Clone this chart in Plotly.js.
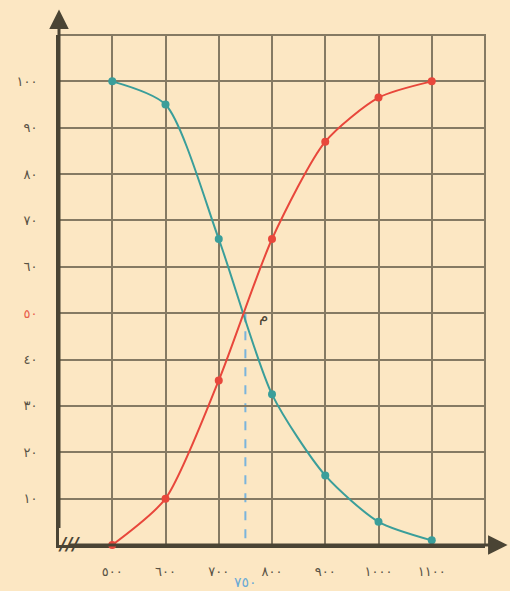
<!DOCTYPE html>
<html>
<head>
<meta charset="utf-8">
<script src="https://cdn.plot.ly/plotly-3.0.1.min.js"></script>
<style>html,body{margin:0;padding:0;background:#fce7c3;}</style>
</head>
<body>
<div id="chart" style="width:510px;height:591px;"></div>
<script>
// Data
var xValues = [500, 600, 700, 800, 900, 1000, 1100];
var tealValues = [100, 95, 66, 32.5, 15, 5, 1];
var redValues = [0, 10, 35.5, 66, 87, 96.5, 100];
var xTickVals = [500, 600, 700, 800, 900, 1000, 1100];
var xTickText = ['٥٠٠', '٦٠٠', '٧٠٠', '٨٠٠', '٩٠٠', '١٠٠٠', '١١٠٠'];
var yTickVals = [10, 20, 30, 40, 50, 60, 70, 80, 90, 100];
var yTickText = ['١٠', '٢٠', '٣٠', '٤٠', '<span style="color:#e8604c">٥٠</span>', '٦٠', '٧٠', '٨٠', '٩٠', '١٠٠'];
var crossX = 750, crossY = 50;
var crossLabel = '٧٥٠';
var pointLabel = 'م';
var originLabel = '٠';

var gridColor = '#857a63';
var axisColor = '#4a4434';
var tickFont = {family: 'DejaVu Sans', size: 13, color: '#5a5345'};

var traces = [
  {x: xValues, y: tealValues, type: 'scatter', mode: 'lines+markers',
   line: {color: '#3a9e9a', width: 2, shape: 'spline', smoothing: 0.7},
   marker: {color: '#3a9e9a', size: 8}, cliponaxis: false},
  {x: xValues, y: redValues, type: 'scatter', mode: 'lines+markers',
   line: {color: '#e8473b', width: 2, shape: 'spline', smoothing: 0.7},
   marker: {color: '#e8473b', size: 8}, cliponaxis: false}
];

var layout = {
  width: 510, height: 591,
  margin: {l: 59, r: 25, t: 35, b: 46},
  paper_bgcolor: '#fce7c3',
  plot_bgcolor: '#fce7c3',
  showlegend: false,
  xaxis: {range: [400, 1200], tickvals: [400,500,600,700,800,900,1000,1100],
          ticktext: [''].concat(xTickText),
          showgrid: true, gridcolor: gridColor, gridwidth: 2,
          showline: true, linecolor: axisColor, linewidth: 3,
          zeroline: false, ticks: '', ticklabelstandoff: 12, tickfont: tickFont,
          layer: 'below traces', fixedrange: true},
  yaxis: {range: [0, 110], tickvals: yTickVals, ticktext: yTickText,
          showgrid: true, gridcolor: gridColor, gridwidth: 2,
          showline: true, linecolor: axisColor, linewidth: 3,
          zeroline: false, ticks: '', ticklabelstandoff: 16, tickfont: tickFont,
          layer: 'below traces', fixedrange: true},
  shapes: [
    {type: 'path', xref: 'paper', yref: 'paper', path: 'M0,1 L1,1 L1,0',
     line: {color: gridColor, width: 2}, layer: 'below'},
    {type: 'line', xref: 'x', yref: 'y', x0: crossX, x1: crossX, y0: crossY, y1: -5,
     line: {color: '#7ab4dc', width: 2, dash: 'dash'}, layer: 'below'}
  ],
  annotations: [
    // y-axis arrow
    {xref: 'x', yref: 'paper', x: 400, y: 1.05, ax: 0, ay: 520, axref: 'pixel', ayref: 'pixel',
     showarrow: true, arrowhead: 2, arrowsize: 1.3, arrowwidth: 3, arrowcolor: axisColor, text: ''},
    // x-axis arrow
    {xref: 'paper', yref: 'y', x: 1.053, y: 0, ax: -440, ay: 0,
     showarrow: true, arrowhead: 2, arrowsize: 1.3, arrowwidth: 3, arrowcolor: axisColor, text: ''},
    {xref: 'x', yref: 'y', x: 419, y: 0, text: '<i><b>///</b></i>', showarrow: false,
     font: {family: 'DejaVu Sans', size: 17, color: axisColor}, yshift: 1},
    {xref: 'x', yref: 'paper', x: 383, y: 0, yshift: -12, text: originLabel, showarrow: false,
     font: tickFont},
    {xref: 'x', yref: 'paper', x: crossX, y: 0, yshift: -47, text: crossLabel, showarrow: false,
     font: {family: 'DejaVu Sans', size: 14, color: '#6aaad6'}},
    {xref: 'x', yref: 'y', x: crossX + 34, y: crossY - 0.5, text: pointLabel, showarrow: false,
     font: {family: 'DejaVu Sans', size: 15, color: '#4a4434'}}
  ]
};

Plotly.newPlot('chart', traces, layout, {displayModeBar: false, staticPlot: true});
</script>
</body>
</html>
